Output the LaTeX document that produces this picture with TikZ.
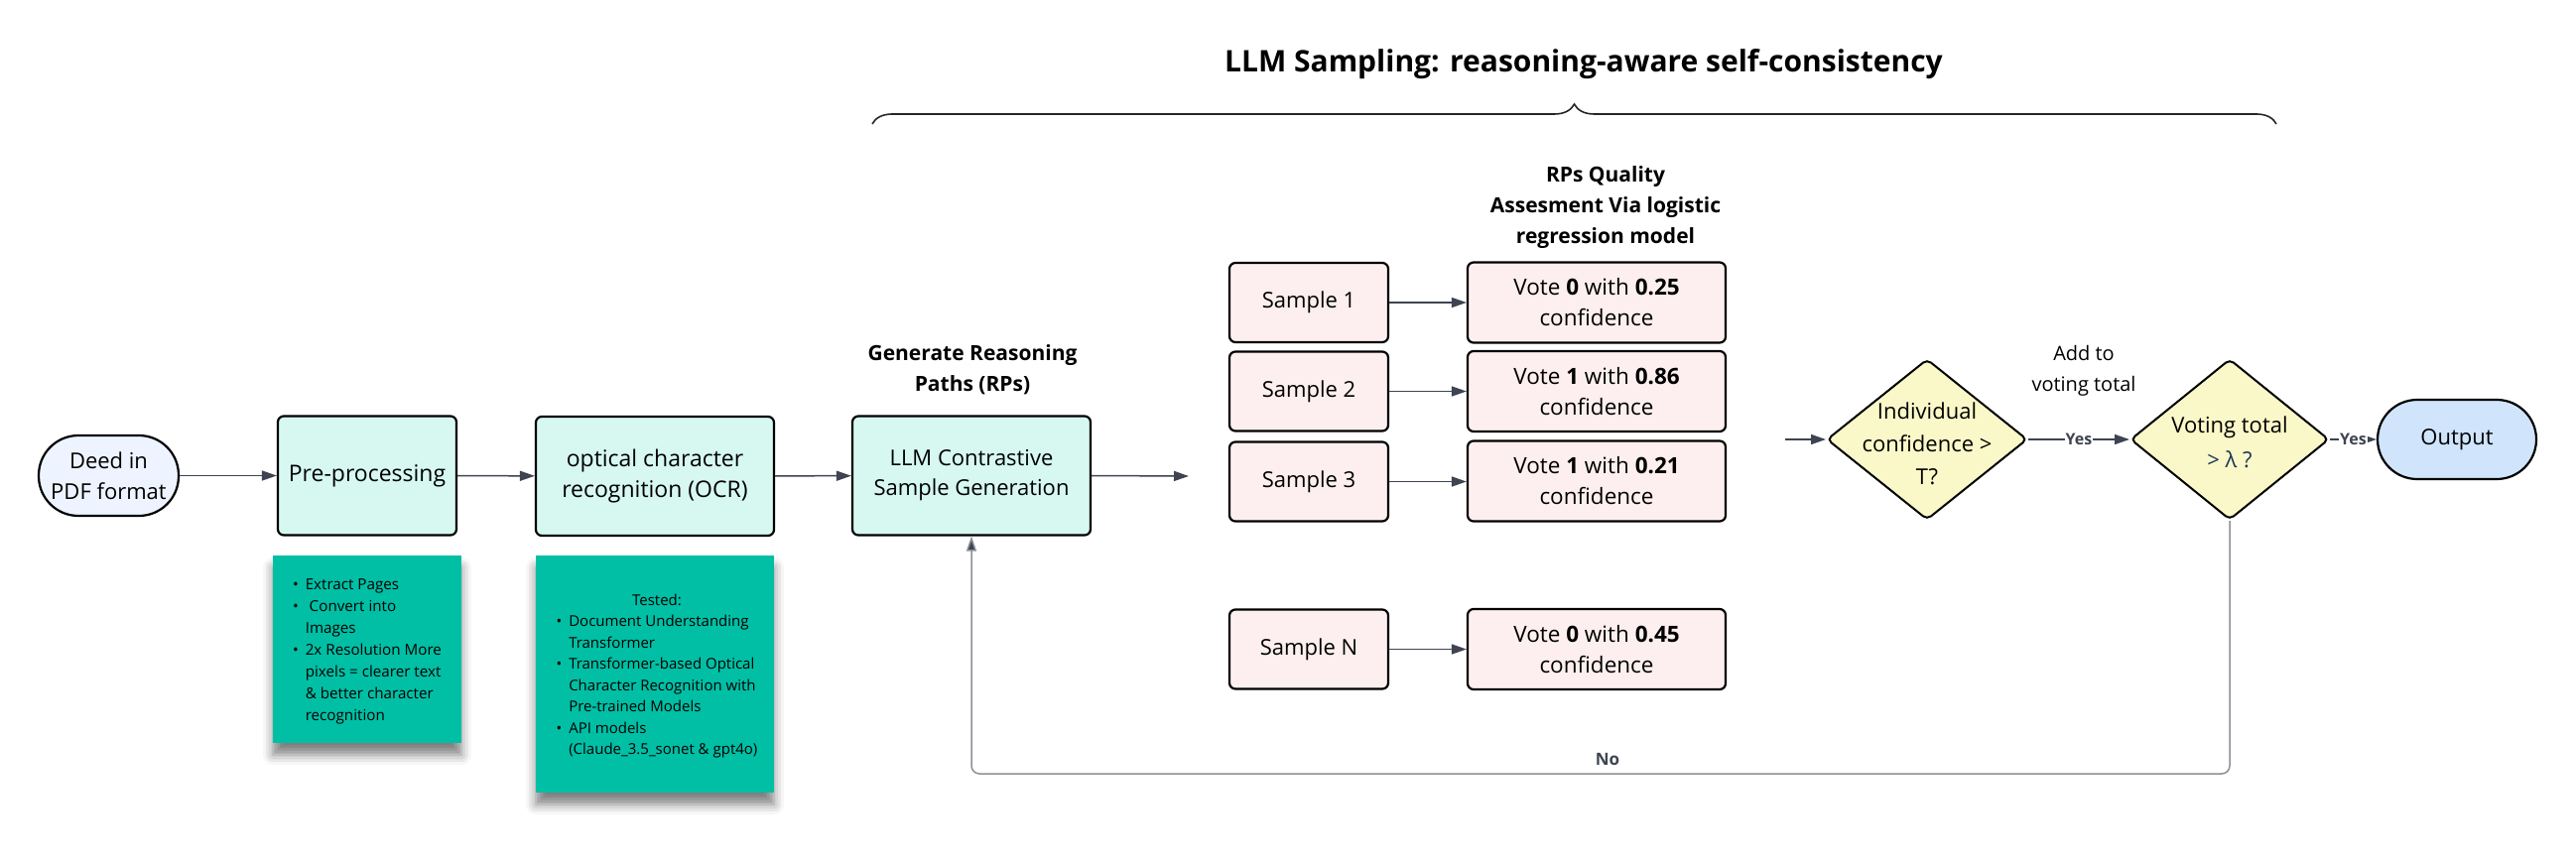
\documentclass[tikz,border=0pt]{standalone}
\usepackage{fontspec}
\setmainfont{Open Sans}
\usetikzlibrary{arrows.meta,shapes.geometric,decorations.pathreplacing,shadows.blur,calc}
\definecolor{procfill}{HTML}{D6F8F1}
\definecolor{notefill}{HTML}{00BFA5}
\definecolor{pinkfill}{HTML}{FDEFEF}
\definecolor{yelfill}{HTML}{FAF8C8}
\definecolor{deedfill}{HTML}{EDF4FF}
\definecolor{outfill}{HTML}{D0E4FC}
\definecolor{arrowgray}{HTML}{3E4450}
\definecolor{fbgray}{HTML}{8C9097}
\definecolor{lamblue}{HTML}{1D3557}
\begin{document}
\begin{tikzpicture}[x=1pt,y=-1pt,
 box/.style={draw=black,line width=2.2pt,rounded corners=6pt,align=center,inner sep=0pt},
 procbox/.style={box,fill=procfill,minimum height=120pt,font=\fontsize{23}{31}\selectfont},
 sampbox/.style={box,fill=pinkfill,minimum width=160pt,minimum height=80pt,font=\fontsize{22}{31}\selectfont},
 votebox/.style={box,fill=pinkfill,minimum width=260pt,minimum height=81pt,font=\fontsize{22.5}{31}\selectfont},
 term/.style={draw=black,line width=2.2pt,rounded corners=40pt,align=center,minimum height=81pt,inner sep=0pt,font=\fontsize{22}{31}\selectfont},
 decision/.style={diamond,draw=black,line width=2pt,fill=yelfill,rounded corners=5pt,inner sep=0pt},
 notebox/.style={fill=notefill,inner sep=0pt,blur shadow={shadow xshift=0pt,shadow yshift=-12pt,shadow blur radius=10pt,shadow opacity=50}},
 conn/.style={draw=arrowgray,line width=1.5pt,-{Triangle[length=15pt,width=10pt]}},
 heading/.style={font=\bfseries\fontsize{21}{31}\selectfont,align=center},
 plain/.style={font=\fontsize{20}{31}\selectfont,align=center},
 yeslbl/.style={fill=white,inner sep=1pt,font=\bfseries\fontsize{16}{18}\selectfont,text=arrowgray},
]
\useasboundingbox (0,0) rectangle (2596,869);

% title and brace
\node[font=\bfseries\fontsize{30}{34}\selectfont] (title) at (1596,65) {LLM Sampling: reasoning-aware self-consistency};
\coordinate (braceL) at (879,125);
\coordinate (braceR) at (2294,125);
\draw[decorate,decoration={brace,amplitude=20pt},line width=1.6pt,draw=black!85] (braceL) -- (braceR);

% main pipeline
\node[term,fill=deedfill,minimum width=141pt] (deed) at (109.5,479.5) {Deed in\\PDF format};
\node[procbox,minimum width=180pt] (pre) at (370,479.5) {Pre-processing};
\node[procbox,minimum width=240pt] (ocr) at (660,480) {optical character\\recognition (OCR)};
\node[procbox,minimum width=240pt,font=\fontsize{22}{30}\selectfont] (llm) at (979,479.5) {LLM Contrastive\\Sample Generation};
\node[heading] (gentitle) at (980,372.5) {Generate Reasoning\\Paths (RPs)};
\coordinate (llmout) at (1198,480);

% notes
\node[notebox,minimum width=190pt,minimum height=189pt] (note1) at (370,654.5) {};
\node[font=\fontsize{15.2}{22}\selectfont] (note1txt) at (370,656.5) {%
\begin{tabular}{@{}l@{\hspace{7pt}}l@{}}
\textbullet & Extract Pages\\
\textbullet & \ Convert into\\
 & Images\\
\textbullet & 2x Resolution More\\
 & pixels = clearer text\\
 & \& better character\\
 & recognition
\end{tabular}};
\node[notebox,minimum width=240pt,minimum height=239pt] (note2) at (660,679.5) {};
\node[font=\fontsize{15}{21.5}\selectfont] (note2txt) at (662,681) {%
\begin{tabular}{@{}l@{\hspace{7pt}}l@{}}
\multicolumn{2}{c}{Tested:}\\
\textbullet & Document Understanding\\
 & Transformer\\
\textbullet & Transformer-based Optical\\
 & Character Recognition with\\
 & Pre-trained Models\\
\textbullet & API models\\
 & (Claude\_3.5\_sonet \& gpt4o)
\end{tabular}};

% samples and votes
\node[heading] (rptitle) at (1618,209) {RPs Quality\\Assesment Via logistic\\regression model};
\node[sampbox] (s1) at (1319,305) {Sample 1};
\node[sampbox] (s2) at (1319,394.5) {Sample 2};
\node[sampbox] (s3) at (1319,485.5) {Sample 3};
\node[sampbox] (sN) at (1319,654.5) {Sample N};
\node[votebox] (v1) at (1609,305) {Vote \textbf{0} with \textbf{0.25}\\confidence};
\node[votebox] (v2) at (1609,394.5) {Vote \textbf{1} with \textbf{0.86}\\confidence};
\node[votebox] (v3) at (1609,485) {Vote \textbf{1} with \textbf{0.21}\\confidence};
\node[votebox] (vN) at (1609,654.5) {Vote \textbf{0} with \textbf{0.45}\\confidence};

% decisions
\coordinate (dIn) at (1799,443);
\node[decision,minimum width=202pt,minimum height=162pt] (d1) at (1942,443) {};
\node[plain,font=\fontsize{22}{33}\selectfont] (d1txt) at (1942,447.5) {Individual\\confidence >\\T?};
\node[decision,minimum width=200pt,minimum height=162pt] (d2) at (2247,443) {};
\node[plain,font=\fontsize{22}{35}\selectfont] (d2txt) at (2247,445.5) {Voting total\\\textcolor{lamblue}{> λ ?}};
\node[term,fill=outfill,minimum width=160pt,minimum height=80pt] (out) at (2476,443) {Output};
\node[plain] (addlbl) at (2100,373.5) {Add to\\voting total};

% connectors
\draw[conn] (deed) -- (pre);
\draw[conn] (pre) -- (ocr);
\draw[conn] (ocr) -- (llm);
\draw[conn] (llm.east) -- (llmout);
\draw[conn] (s1) -- (v1);
\draw[conn] (s2) -- (v2);
\draw[conn] (s3.east) -- (s3.east -| v3.west);
\draw[conn] (sN) -- (vN);
\draw[conn] (dIn) -- (d1.west);
\draw[conn] (d1.east) -- node[yeslbl] (yes1) {Yes} (d2.west);
\draw[conn] (d2.east) -- node[yeslbl] (yes2) {Yes} (out.west);
\coordinate (fbline) at (0,780);
\draw[draw=fbgray,line width=1.5pt,rounded corners=8pt,-{Triangle[length=15pt,width=10pt,fill=arrowgray]}]
  (d2.south) -- (d2.south |- fbline) -- (llm.south |- fbline) -- (llm.south);
\node[font=\bfseries\fontsize{17}{20}\selectfont,text=arrowgray] (nolbl) at (1620,766) {No};
\end{tikzpicture}
\end{document}
